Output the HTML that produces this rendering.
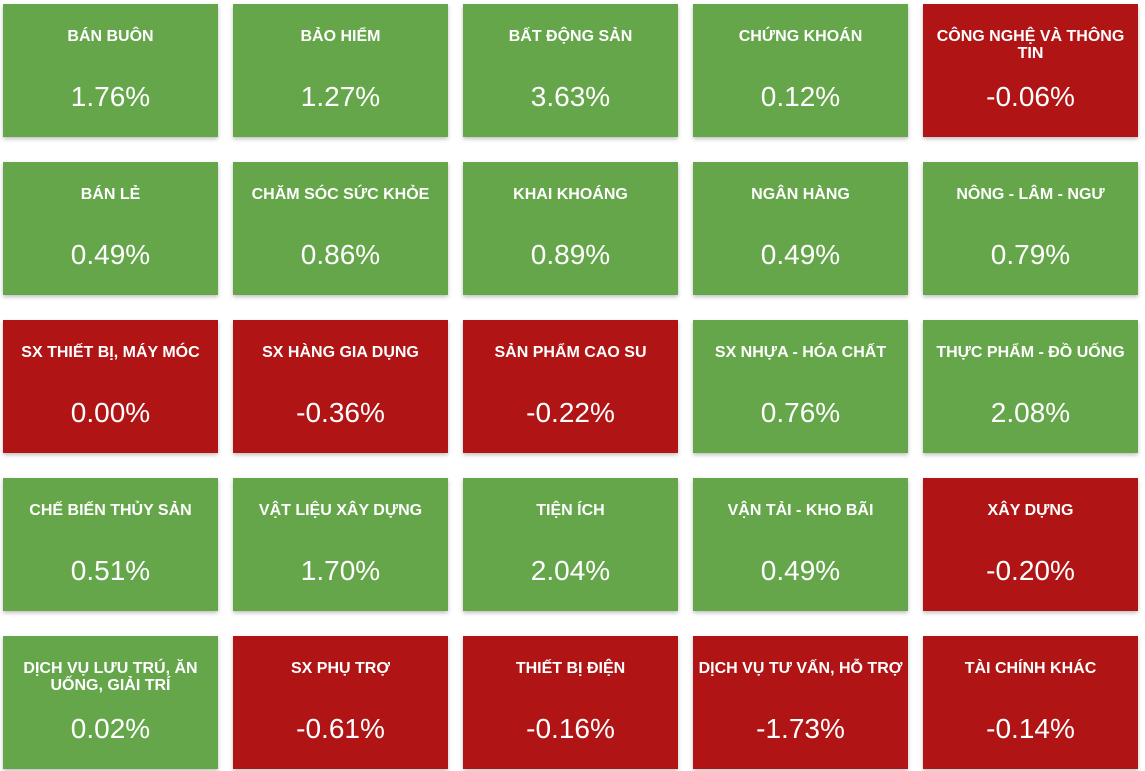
<!DOCTYPE html>
<html><head><meta charset="utf-8"><style>
body{margin:0;width:1145px;height:771px;background:#fff;position:relative;overflow:hidden;font-family:"Liberation Sans",Arial,sans-serif}
.t{position:absolute;width:215px;height:133px;color:#fff;box-shadow:0 2px 4px rgba(0,0,0,.25)}
.n{position:absolute;left:4px;right:4px;top:24px;text-align:center;font-weight:bold;font-size:16px;line-height:17px}
.v{position:absolute;left:0;right:0;top:76px;text-align:center;font-size:28px;line-height:34px}
</style></head><body>
<div id="grid"></div>
<script>
const sectors=["BÁN BUÔN","BẢO HIỂM","BẤT ĐỘNG SẢN","CHỨNG KHOÁN","CÔNG NGHỆ VÀ THÔNG TIN","BÁN LẺ","CHĂM SÓC SỨC KHỎE","KHAI KHOÁNG","NGÂN HÀNG","NÔNG - LÂM - NGƯ","SX THIẾT BỊ, MÁY MÓC","SX HÀNG GIA DỤNG","SẢN PHẨM CAO SU","SX NHỰA - HÓA CHẤT","THỰC PHẨM - ĐỒ UỐNG","CHẾ BIẾN THỦY SẢN","VẬT LIỆU XÂY DỰNG","TIỆN ÍCH","VẬN TẢI - KHO BÃI","XÂY DỰNG","DỊCH VỤ LƯU TRÚ, ĂN UỐNG, GIẢI TRÍ","SX PHỤ TRỢ","THIẾT BỊ ĐIỆN","DỊCH VỤ TƯ VẤN, HỖ TRỢ","TÀI CHÍNH KHÁC"];
const changes=[1.76,1.27,3.63,0.12,-0.06,0.49,0.86,0.89,0.49,0.79,0.00,-0.36,-0.22,0.76,2.08,0.51,1.70,2.04,0.49,-0.20,0.02,-0.61,-0.16,-1.73,-0.14];
const g=document.getElementById('grid');
sectors.forEach((s,i)=>{
  const d=document.createElement('div');
  d.className='t';
  
  
  d.style.left=(3+(i%5)*230)+'px';
  d.style.top=(4+Math.floor(i/5)*158)+'px';
  d.style.background=changes[i]>0?'#65a64b':'#b01414';
  const n=document.createElement('div');
  n.className='n';
  
  
  n.textContent=s;
  if(s.length>20){n.style.top='24px';}
  const v=document.createElement('div');
  v.className='v';
  
  
  v.textContent=changes[i].toFixed(2)+'%';
  d.appendChild(n);d.appendChild(v);g.appendChild(d);
});
</script>
</body></html>
